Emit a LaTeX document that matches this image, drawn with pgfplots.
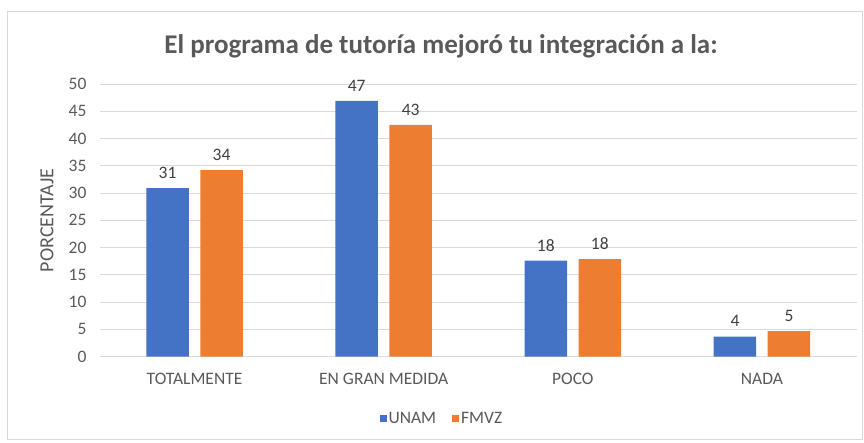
\documentclass[border=0pt]{standalone}
\usepackage{fontspec}
\setmainfont{Carlito}
\usepackage{pgfplots}
\pgfplotsset{compat=1.18}
\definecolor{unam}{HTML}{4472C4}
\definecolor{fmvz}{HTML}{ED7D31}
\definecolor{txt}{HTML}{595959}
\definecolor{lbl}{HTML}{404040}
\definecolor{gridc}{HTML}{D9D9D9}
\begin{document}
\begin{tikzpicture}[x=1pt,y=1pt]
\path[use as bounding box] (0,0) rectangle (864,-442);
\draw[gridc, line width=0.8pt] (7,-11) rectangle (862,-439);
\node[font=\fontsize{27}{31}\selectfont\bfseries, text=txt] at (441,-46) {El programa de tutoría mejoró tu integración a la:};
\node[font=\fontsize{20}{23}\selectfont, text=txt, rotate=90] at (47,-220.3) {PORCENTAJE};
\begin{axis}[
  at={(100pt,-356.7pt)}, anchor=south west,
  scale only axis, width=756.5pt, height=272.7pt,
  xmin=-0.5, xmax=3.5, ymin=0, ymax=50,
  ytick={0,5,...,50},
  xtick={0,1,2,3},
  xticklabels={TOTALMENTE, EN GRAN MEDIDA, POCO, NADA},
  ybar=11.5pt, bar width=42.5pt,
  axis line style={draw=none},
  major tick length=0pt,
  ymajorgrids, grid style={gridc, line width=0.8pt},
  /pgf/number format/assume math mode=true,
  tick label style={font=\fontsize{17.5}{20}\selectfont, text=txt},
  yticklabel style={xshift=-10pt},
  xticklabel style={yshift=-13pt},
  point meta=explicit symbolic,
  nodes near coords,
  every node near coord/.append style={font=\fontsize{17.5}{20}\selectfont, text=lbl, yshift=6pt},
  legend columns=2,
  legend style={draw=none, at={(axis description cs:0.452,-0.2275)}, anchor=center, font=\fontsize{17.5}{20}\selectfont, text=txt, /tikz/every even column/.append style={column sep=14pt}},
  legend image code/.code={\fill[#1] (1pt,-3.5pt) rectangle (8pt,3.5pt);},
  legend cell align=left,
]
\addplot[fill=unam, draw=none] coordinates {(0,30.9) [31] (1,46.9) [47] (2,17.6) [18] (3,3.7) [4]};
\addplot[fill=fmvz, draw=none] coordinates {(0,34.2) [34] (1,42.5) [43] (2,17.9) [18] (3,4.7) [5]};
\legend{UNAM, FMVZ}
\end{axis}
\end{tikzpicture}
\end{document}
